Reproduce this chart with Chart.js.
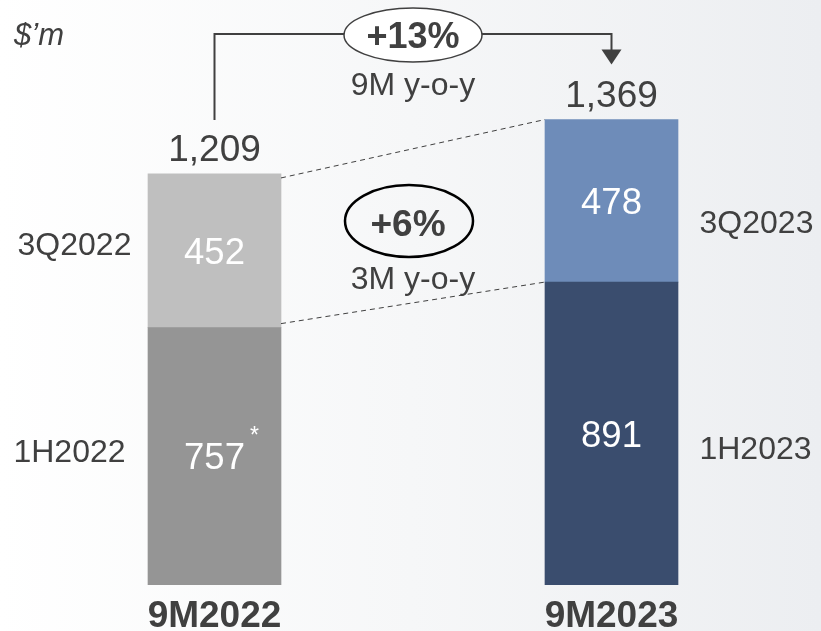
<!DOCTYPE html>
<html>
<head>
<meta charset="utf-8">
<script src="https://cdn.jsdelivr.net/npm/chart.js@4.4.1/dist/chart.umd.min.js"></script>
<style>
  html, body { margin: 0; padding: 0; background: #fff; }
  #wrap { width: 821px; height: 631px; position: relative; }
</style>
</head>
<body>
<div id="wrap"><canvas id="c"></canvas></div>
<script>
const categories = ['9M2022', '9M2023'];
const firstHalfValues = [757, 891];
const thirdQuarterValues = [452, 478];
const firstHalfLabels = ['1H2022', '1H2023'];
const thirdQuarterLabels = ['3Q2022', '3Q2023'];
const unitLabel = '$\u2019m';
const growth9M = ['+13%', '9M y-o-y'];
const growth3M = ['+6%', '3M y-o-y'];
const footnoteMark = '*';

const FONT = '"Liberation Sans", Arial, sans-serif';
const TEXT = '#404040';

function fmt(v) { return v.toLocaleString('en-US'); }

function txt(ctx, s, x, capCenter, size, opts = {}) {
  ctx.save();
  ctx.font = (opts.italic ? 'italic ' : '') + (opts.bold ? 'bold ' : '') + size + 'px ' + FONT;
  ctx.fillStyle = opts.color || TEXT;
  ctx.textAlign = opts.align || 'center';
  ctx.textBaseline = 'alphabetic';
  ctx.fillText(s, x, capCenter + 0.358 * size);
  ctx.restore();
}

const bgPlugin = {
  id: 'bg',
  beforeDraw(chart) {
    const ctx = chart.ctx;
    const g = ctx.createLinearGradient(0, 0, chart.width, 0);
    g.addColorStop(0, '#ffffff');
    g.addColorStop(0.5, '#f6f7f8');
    g.addColorStop(1, '#eceef1');
    ctx.save();
    ctx.fillStyle = g;
    ctx.fillRect(0, 0, chart.width, chart.height);
    ctx.restore();
  }
};

const annoPlugin = {
  id: 'anno',
  afterDatasetsDraw(chart) {
    const ctx = chart.ctx;
    const y = chart.scales.y;
    const m0 = chart.getDatasetMeta(0).data;
    const m1 = chart.getDatasetMeta(1).data;
    const totals = categories.map((_, i) => firstHalfValues[i] + thirdQuarterValues[i]);

    // inner value labels
    for (let i = 0; i < categories.length; i++) {
      const b0 = m0[i], b1 = m1[i];
      const c0 = (b0.y + b0.base) / 2;
      const c1 = (b1.y + b1.base) / 2;
      txt(ctx, String(firstHalfValues[i]), b0.x, c0, 36.5, { color: '#ffffff' });
      txt(ctx, String(thirdQuarterValues[i]), b1.x, c1, 36.5, { color: '#ffffff' });
      // totals
      txt(ctx, fmt(totals[i]), b1.x, y.getPixelForValue(totals[i]) - 26, 37);
    }
    // footnote asterisk
    txt(ctx, footnoteMark, m0[0].x + 40, (m0[0].y + m0[0].base) / 2 - 22, 23, { color: '#ffffff' });

    // side labels
    const L = m0[0], R = m0[1];
    txt(ctx, thirdQuarterLabels[0], L.x - 140, (m1[0].y + m1[0].base) / 2 - 7, 32);
    txt(ctx, firstHalfLabels[0], L.x - 145, (m0[0].y + m0[0].base) / 2 - 6, 32);
    txt(ctx, thirdQuarterLabels[1], R.x + 145, (m1[1].y + m1[1].base) / 2 + 21, 32);
    txt(ctx, firstHalfLabels[1], R.x + 144, (m0[1].y + m0[1].base) / 2 + 14, 32);

    // unit label
    txt(ctx, unitLabel, 14, 34, 31, { italic: true, align: 'left' });

    const lx = L.x + L.width / 2;
    const rx = R.x - R.width / 2;
    // dashed connectors
    ctx.save();
    ctx.strokeStyle = '#404040';
    ctx.lineWidth = 1;
    ctx.setLineDash([5, 4]);
    ctx.beginPath();
    ctx.moveTo(lx, m1[0].y + 4);
    ctx.lineTo(rx, m1[1].y);
    ctx.moveTo(lx, m0[0].y - 4);
    ctx.lineTo(rx, m0[1].y);
    ctx.stroke();
    ctx.restore();

    // bracket with arrow
    const topY = chart.chartArea.top - 7;
    ctx.save();
    ctx.strokeStyle = '#404040';
    ctx.fillStyle = '#404040';
    ctx.lineWidth = 2;
    ctx.beginPath();
    ctx.moveTo(L.x, m1[0].y - 54);
    ctx.lineTo(L.x, topY);
    ctx.lineTo(R.x, topY);
    ctx.lineTo(R.x, m1[1].y - 68);
    ctx.stroke();
    const tip = m1[1].y - 55;
    ctx.beginPath();
    ctx.moveTo(R.x - 10, tip - 15);
    ctx.lineTo(R.x + 10, tip - 15);
    ctx.lineTo(R.x, tip);
    ctx.closePath();
    ctx.fill();
    ctx.restore();

    // +13% ellipse
    const mx = (L.x + R.x) / 2;
    ctx.save();
    ctx.beginPath();
    ctx.ellipse(mx, topY + 1, 69, 27, 0, 0, Math.PI * 2);
    ctx.fillStyle = '#ffffff';
    ctx.fill();
    ctx.strokeStyle = '#404040';
    ctx.lineWidth = 1.5;
    ctx.stroke();
    ctx.restore();
    txt(ctx, growth9M[0], mx, topY + 1, 36, { bold: true });
    txt(ctx, growth9M[1], mx, topY + 50, 32);

    // +6% ellipse
    const ey = 221;
    ctx.save();
    ctx.beginPath();
    ctx.ellipse(mx - 4, ey, 64, 36, 0, 0, Math.PI * 2);
    ctx.strokeStyle = '#000000';
    ctx.lineWidth = 2.5;
    ctx.stroke();
    ctx.restore();
    txt(ctx, growth3M[0], mx - 5, ey + 2, 37, { bold: true });
    txt(ctx, growth3M[1], mx, ey + 57, 32);
  }
};

new Chart(document.getElementById('c'), {
  type: 'bar',
  data: {
    labels: categories,
    datasets: [
      { label: '1H', data: firstHalfValues, backgroundColor: ['#959595', '#3a4d6e'], barThickness: 133 },
      { label: '3Q', data: thirdQuarterValues, backgroundColor: ['#bfbfbf', '#6e8cb9'], barThickness: 133 }
    ]
  },
  options: {
    responsive: true,
    maintainAspectRatio: false,
    animation: false,
    events: [],
    layout: { padding: { top: 41, left: 16, right: 11, bottom: 0 } },
    plugins: { legend: { display: false }, tooltip: { enabled: false } },
    scales: {
      x: {
        stacked: true,
        grid: { display: false, drawTicks: false },
        border: { display: false },
        ticks: { color: TEXT, font: { family: FONT, size: 37, weight: 'bold' }, padding: 10 },
        afterFit(axis) { axis.height = 46; }
      },
      y: {
        stacked: true,
        display: false,
        min: 0,
        max: 1600
      }
    }
  },
  plugins: [bgPlugin, annoPlugin]
});
</script>
</body>
</html>
